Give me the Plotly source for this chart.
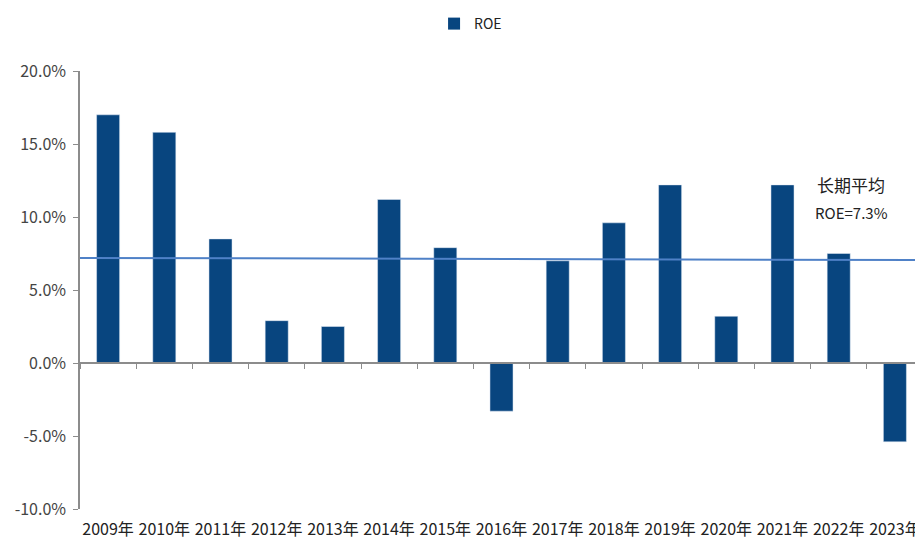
import plotly.graph_objects as go

years = ["2009年", "2010年", "2011年", "2012年", "2013年", "2014年", "2015年", "2016年",
         "2017年", "2018年", "2019年", "2020年", "2021年", "2022年", "2023年"]
roe = [17.0, 15.8, 8.5, 2.9, 2.5, 11.2, 7.9, -3.3, 7.0, 9.6, 12.2, 3.2, 12.2, 7.5, -5.4]
avg_start, avg_end = 7.2, 7.05
avg_label = ["长期平均", "ROE=7.3%"]
y_ticks = [-10, -5, 0, 5, 10, 15, 20]
y_labels = ["-10.0%", "-5.0%", "0.0%", "5.0%", "10.0%", "15.0%", "20.0%"]

bar_color = "#08457f"
line_color = "#4f81c7"
axis_color = "#8c8c8c"
font_cjk = "Noto Sans CJK SC"

fig = go.Figure()
fig.add_trace(go.Bar(x=years, y=roe, name="ROE", marker_color=bar_color,
                     marker_line_width=0, xaxis="x", yaxis="y"))
# invisible trace to drive the axis that sits on the zero line
fig.add_trace(go.Bar(x=years, y=roe, marker_color="rgba(0,0,0,0)", showlegend=False,
                     hoverinfo="skip", xaxis="x2", yaxis="y"))

fig.add_shape(type="line", xref="paper", yref="y", x0=0, x1=1, y0=avg_start, y1=avg_end,
              line=dict(color=line_color, width=2))

fig.add_annotation(x=0.915, xref="paper", y=12.2, yref="y", text=avg_label[0],
                   xanchor="center", yanchor="middle",
                   showarrow=False, font=dict(family=font_cjk, size=17, color="#222"))
fig.add_annotation(x=0.915, xref="paper", y=10.3, yref="y", text=avg_label[1],
                   xanchor="center", yanchor="middle",
                   showarrow=False, font=dict(family=font_cjk, size=15, color="#222"))

fig.update_layout(
    width=915, height=532,
    margin=dict(l=72, r=0, t=58, b=31),
    paper_bgcolor="white", plot_bgcolor="white",
    bargap=0.59,
    font=dict(family=font_cjk, color="#333"),
    showlegend=True,
    legend=dict(orientation="h", x=0.42, xanchor="left", y=1.145, yanchor="top",
                font=dict(family="Liberation Sans Narrow, " + font_cjk, size=14, color="#222"),
                itemwidth=30, bgcolor="rgba(0,0,0,0)"),
    xaxis=dict(type="category", categoryorder="array", categoryarray=years,
               range=[-0.5, 14.5], showline=False, ticks="", showgrid=False,
               zeroline=False, tickfont=dict(family=font_cjk, size=16, color="#222"),
               ticklabelstandoff=9),
    xaxis2=dict(type="category", categoryorder="array", categoryarray=years,
                range=[-0.5, 14.5], overlaying="x", anchor="free", position=1/3,
                matches="x", showline=True, linecolor=axis_color, linewidth=1.5,
                ticks="outside", tickson="boundaries", ticklen=5, tickcolor=axis_color,
                showticklabels=False, showgrid=False, zeroline=False),
    yaxis=dict(range=[-10, 20], tickvals=y_ticks, ticktext=y_labels,
               showline=True, linecolor=axis_color, linewidth=1.5,
               ticks="outside", ticklen=5, tickcolor=axis_color,
               showgrid=False, zeroline=False, ticklabelstandoff=4,
               tickfont=dict(family=font_cjk, size=16, color="#444")),
)

fig.write_html("out.html")
